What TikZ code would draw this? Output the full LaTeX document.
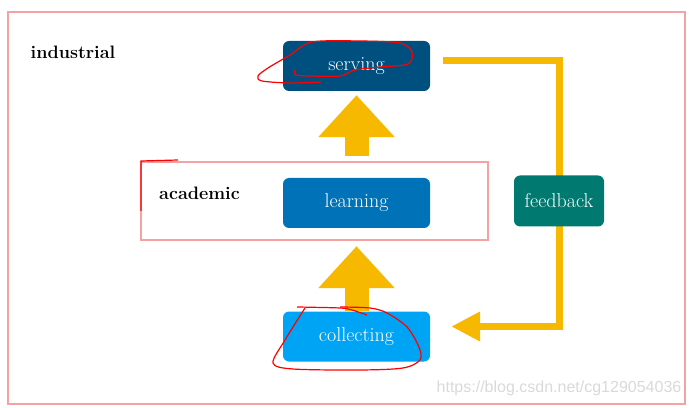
\documentclass[tikz,border=0pt]{standalone}
\usepackage{fontspec}
\newfontfamily\wmfont{Liberation Sans}
\usetikzlibrary{arrows.meta}
\definecolor{pinkline}{HTML}{F5A2A2}
\definecolor{servblue}{HTML}{00507F}
\definecolor{lrnblue}{HTML}{0073B8}
\definecolor{colblue}{HTML}{00A4F5}
\definecolor{fbteal}{HTML}{007A70}
\definecolor{arrowyel}{HTML}{F7B900}

\begin{document}
\begin{tikzpicture}[x=1pt,y=1pt,
  stage/.style={rounded corners=6pt,minimum width=147pt,minimum height=50pt,text=white,font=\fontsize{20}{22}\selectfont},
  frame/.style={draw=pinkline,line width=2.5pt},
  tag/.style={font=\fontsize{18}{20}\selectfont\bfseries},
  bigarrow/.style={arrowyel,line width=24pt,-{Triangle[width=74pt,length=42pt]}},
  fbline/.style={arrowyel,line width=7pt},
  scribble/.style={red,line width=1.2pt}]
\useasboundingbox (0,0) rectangle (690,407);
\draw[frame] (8,3) rectangle (685,395);
\draw[frame,line width=2pt] (141,167) rectangle (488,245);
\node[tag] (ind) at (73,355) {industrial};
\node[tag] (acad) at (199.5,214) {academic};
\node[stage,fill=servblue] (srv) at (356.5,341) {serving};
\node[stage,fill=lrnblue] (lrn) at (356.5,204) {learning};
\node[stage,fill=colblue] (col) at (356.5,70.5) {collecting};
\draw[bigarrow] ([yshift=22pt]lrn.north) -- ([yshift=-4pt]srv.south);
\draw[bigarrow] (col.north) -- ([yshift=-18pt]lrn.south);
\draw[fbline] ([xshift=13pt,yshift=5.5pt]srv.east) -| (559,200);
\draw[fbline,-{Triangle[width=28pt,length=29pt]}] (559,200) |- ([xshift=21pt,yshift=10pt]col.east);
\node[stage,fill=fbteal,minimum width=90pt,minimum height=51pt] (fb) at (559,206) {feedback};
% pen marks
\draw[scribble] plot[smooth] coordinates {(321,325) (290,324) (262,326) (258,331) (268,339) (290,352) (312,365) (360,366) (400,364) (412,355) (408,343) (380,340) (355,337) (340,331) (310,331) (296,332) (295,337)};
\draw[scribble] plot[smooth] coordinates {(297,100) (340,99) (352,97) (367,92)};
\draw[scribble] plot[smooth] coordinates {(305,99) (285,67) (273,44) (293,38) (360,37) (403,39) (420,47) (419,60) (407,80) (387,94) (370,99) (340,100)};
\draw[scribble] (141,196) -- (141,246) -- (178,247);
\node[text=black!15,font=\wmfont\fontsize{16}{18}\selectfont] (wm) at (559,19) {https://blog.csdn.net/cg129054036};
\end{tikzpicture}
\end{document}
